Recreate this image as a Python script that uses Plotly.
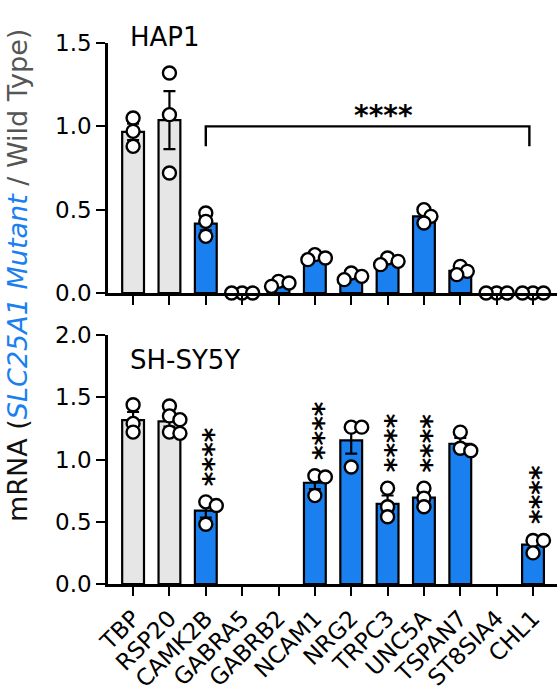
import numpy as np
import plotly.graph_objects as go

genes = ["TBP", "RSP20", "CAMK2B", "GABRA5", "GABRB2", "NCAM1", "NRG2",
         "TRPC3", "UNC5A", "TSPAN7", "ST8SIA4", "CHL1"]
control_genes = ["TBP", "RSP20"]

hap1_points = {
    "TBP": [1.05, 0.97, 0.88],
    "RSP20": [1.32, 1.07, 0.72],
    "CAMK2B": [0.48, 0.43, 0.34],
    "GABRA5": [0.0, 0.0, 0.0],
    "GABRB2": [0.07, 0.06, 0.04],
    "NCAM1": [0.23, 0.21, 0.20],
    "NRG2": [0.12, 0.10, 0.08],
    "TRPC3": [0.21, 0.19, 0.17],
    "UNC5A": [0.50, 0.46, 0.42],
    "TSPAN7": [0.16, 0.13, 0.11],
    "ST8SIA4": [0.0, 0.0, 0.0],
    "CHL1": [0.0, 0.0, 0.0],
}

shsy5y_points = {
    "TBP": [1.44, 1.29, 1.22],
    "RSP20": [1.43, 1.35, 1.32, 1.22, 1.21],
    "CAMK2B": [0.66, 0.63, 0.48],
    "GABRA5": [],
    "GABRB2": [],
    "NCAM1": [0.87, 0.86, 0.71],
    "NRG2": [1.26, 1.26, 0.94],
    "TRPC3": [0.77, 0.62, 0.54],
    "UNC5A": [0.77, 0.69, 0.62],
    "TSPAN7": [1.22, 1.09, 1.07],
    "ST8SIA4": [],
    "CHL1": [0.35, 0.35, 0.25],
}

shsy5y_significant = ["CAMK2B", "NCAM1", "TRPC3", "UNC5A", "CHL1"]
hap1_bracket = ("CAMK2B", "CHL1")
sig_label = "****"

# ---- style / geometry ----
W, H = 559, 693
ML, MR, MT, MB = 108, 2, 43, 109
XR = [-0.69, 11.66]
TOP_RANGE = [0, 1.5]
BOT_RANGE = [0, 2.0]
plot_h = H - MT - MB
top_dom = [(584 - 293) / plot_h, 1.0]
bot_dom = [0.0, (584 - 335) / plot_h]
px_per_x = (W - ML - MR) / (XR[1] - XR[0])
BLUE = "#1a80f0"
GRAY = "#e6e6e6"
FONT = "DejaVu Sans, Arial, sans-serif"


def swarm_offsets(vals, px_per_y, min_d=8.0, step=3.5):
    placed = []
    offs = [0.0] * len(vals)
    order = sorted(range(len(vals)), key=lambda i: -vals[i])
    for i in order:
        y = vals[i] * px_per_y
        k = 0
        while True:
            cands = [0.0] if k == 0 else [k * step, -k * step]
            ok = None
            for c in cands:
                if all((c - px) ** 2 + (y - py) ** 2 >= min_d ** 2 for px, py in placed):
                    ok = c
                    break
            if ok is not None:
                placed.append((ok, y))
                offs[i] = ok / px_per_x
                break
            k += 1
    return offs


fig = go.Figure()


def add_panel(points, xa, ya, yrange, dom):
    px_per_y = plot_h * (dom[1] - dom[0]) / (yrange[1] - yrange[0])
    means, sems, colors = [], [], []
    for g in genes:
        v = np.array(points[g], dtype=float)
        if len(v):
            means.append(float(v.mean()))
            sems.append(float(v.std(ddof=1) / np.sqrt(len(v))))
        else:
            means.append(None)
            sems.append(None)
        colors.append(GRAY if g in control_genes else BLUE)
    xs = list(range(len(genes)))
    fig.add_trace(go.Bar(
        x=xs, y=means, width=0.6, xaxis=xa, yaxis=ya,
        marker=dict(color=colors, line=dict(color="black", width=2.2)),
        error_y=dict(type="data", array=sems, visible=True,
                     color="black", thickness=2.2, width=6),
        showlegend=False, hoverinfo="skip",
    ))
    sx, sy = [], []
    for i, g in enumerate(genes):
        vals = points[g]
        offs = swarm_offsets(vals, px_per_y)
        for v, o in zip(vals, offs):
            sx.append(i + o)
            sy.append(v)
    fig.add_trace(go.Scatter(
        x=sx, y=sy, mode="markers", xaxis=xa, yaxis=ya, cliponaxis=False,
        marker=dict(symbol="circle", size=13, color="white",
                    line=dict(color="black", width=2.4)),
        showlegend=False, hoverinfo="skip",
    ))


add_panel(hap1_points, "x", "y", TOP_RANGE, top_dom)
add_panel(shsy5y_points, "x2", "y2", BOT_RANGE, bot_dom)

# bracket in HAP1 panel
b0 = genes.index(hap1_bracket[0])
b1 = genes.index(hap1_bracket[1]) - 0.1
fig.add_shape(type="path", xref="x", yref="y",
              path=f"M {b0} 0.88 L {b0} 1.0 L {b1} 1.0 L {b1} 0.88",
              line=dict(color="black", width=2.4))
fig.add_annotation(x=(b0 + b1) / 2 + 0.45, y=1.0, xref="x", yref="y",
                   text=f"<b>{sig_label}</b>", showarrow=False,
                   yanchor="bottom", yshift=-8,
                   font=dict(family=FONT, size=28, color="black"))

# vertical stars in SH-SY5Y panel
for g in shsy5y_significant:
    i = genes.index(g)
    top = max(shsy5y_points[g])
    fig.add_annotation(x=i, y=top, xref="x2", yref="y2",
                       text=f"<b>{sig_label}</b>", showarrow=False,
                       textangle=-90, yanchor="bottom", yshift=14, xshift=8,
                       font=dict(family=FONT, size=28, color="black"))

# panel titles
fig.add_annotation(x=(128 - ML) / (W - ML - MR), y=(584 - 37) / plot_h,
                   xref="paper", yref="paper", text="HAP1", showarrow=False,
                   xanchor="left", yanchor="middle",
                   font=dict(family=FONT, size=26, color="black"))
fig.add_annotation(x=(128 - ML) / (W - ML - MR), y=(584 - 360) / plot_h,
                   xref="paper", yref="paper", text="SH-SY5Y", showarrow=False,
                   xanchor="left", yanchor="middle",
                   font=dict(family=FONT, size=26, color="black"))

# y title
fig.add_annotation(
    x=(17 - ML) / (W - ML - MR), y=(584 - 276) / plot_h,
    xref="paper", yref="paper", textangle=-90, showarrow=False,
    xanchor="center", yanchor="middle",
    text=("mRNA (<span style='color:" + BLUE + "'><i>SLC25A1 Mutant</i></span>"
          "<span style='color:#555555'> / Wild Type)</span>"),
    font=dict(family=FONT, size=27, color="#111111"))

axis_common = dict(showline=True, linecolor="black", linewidth=2.5,
                   ticks="outside", tickcolor="black", tickwidth=2.2,
                   showgrid=False, zeroline=False)

fig.update_layout(
    width=W, height=H, margin=dict(l=ML, r=MR, t=MT, b=MB),
    paper_bgcolor="white", plot_bgcolor="white", bargap=0.4,
    xaxis=dict(domain=[0, 1], anchor="y", range=XR, tickvals=list(range(len(genes))),
               ticktext=genes, showticklabels=False, ticklen=9, **axis_common),
    xaxis2=dict(domain=[0, 1], anchor="y2", range=XR, tickvals=list(range(len(genes))),
                ticktext=genes, tickangle=-45, ticklen=9,
                tickfont=dict(family=FONT, size=23, color="black"), **axis_common),
    yaxis=dict(domain=top_dom, anchor="x", range=TOP_RANGE, tickvals=[0, 0.5, 1.0, 1.5],
               tickformat=".1f", ticklen=9,
               tickfont=dict(family=FONT, size=23, color="black"), **axis_common),
    yaxis2=dict(domain=bot_dom, anchor="x2", range=BOT_RANGE,
                tickvals=[0, 0.5, 1.0, 1.5, 2.0], tickformat=".1f", ticklen=9,
                tickfont=dict(family=FONT, size=23, color="black"), **axis_common),
)

fig.write_html("out.html", config={"displayModeBar": False},
               post_script="document.body.style.margin='0';")
